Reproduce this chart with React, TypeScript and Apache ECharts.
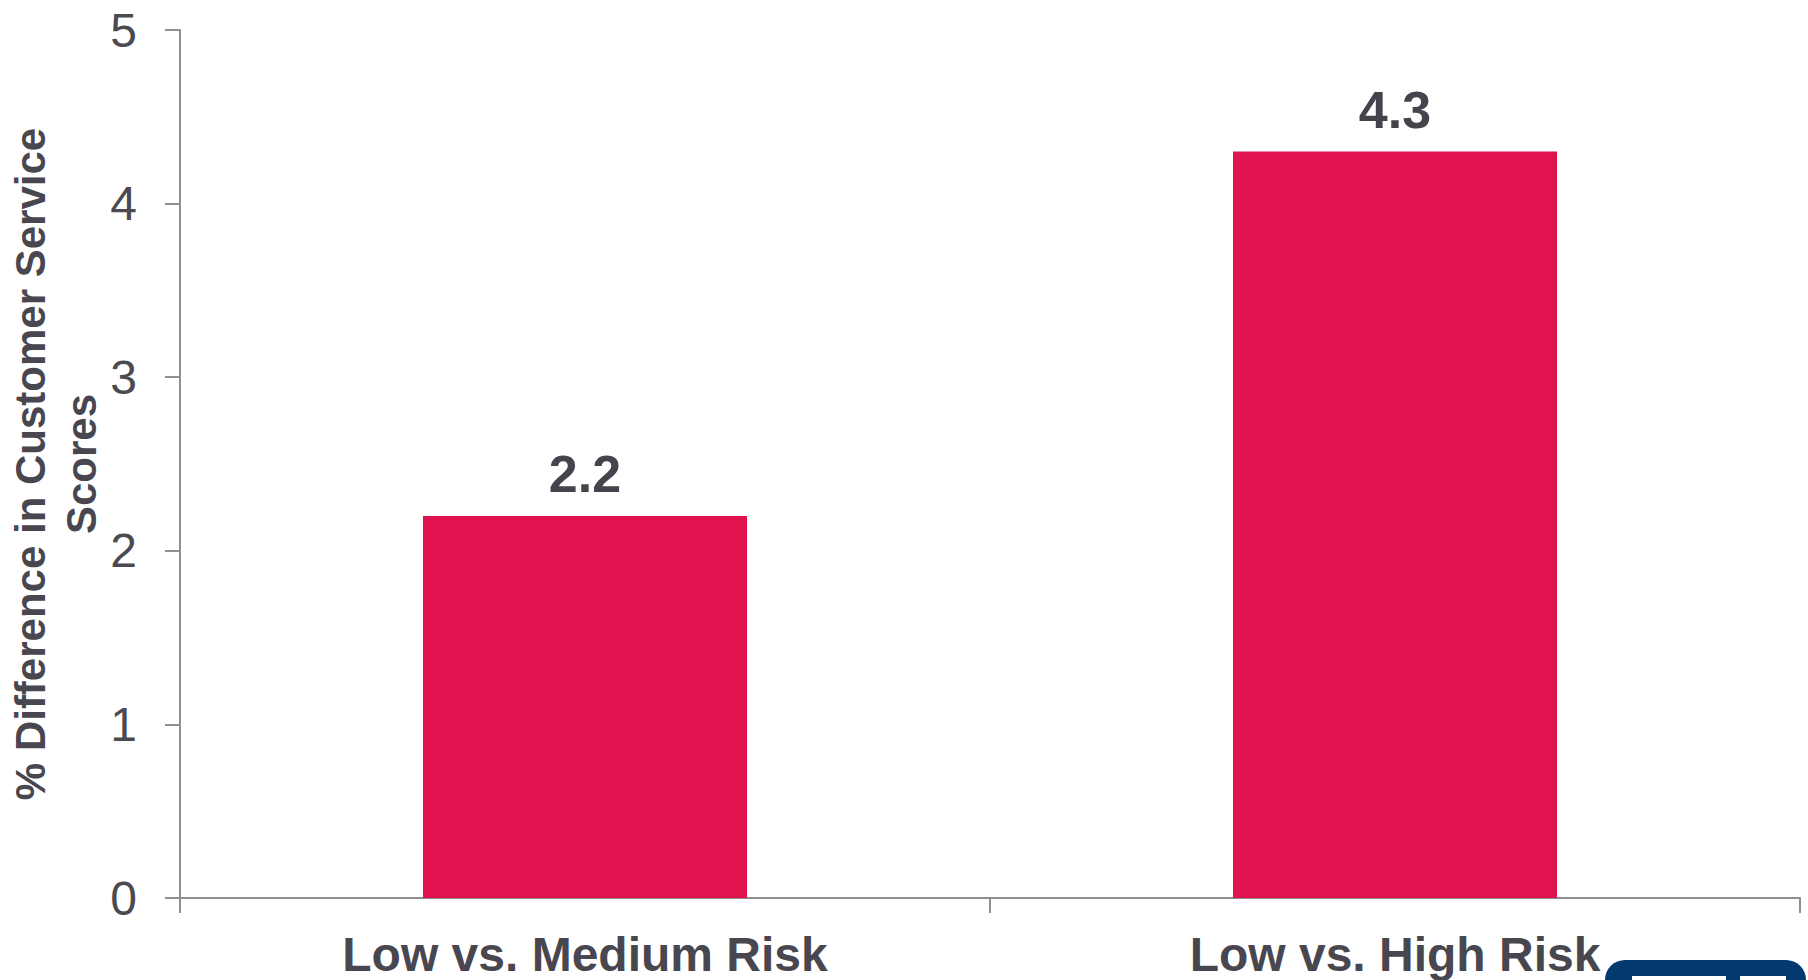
import React, { useEffect, useRef } from "react";
import * as echarts from "echarts";

const categories = ["Low vs. Medium Risk", "Low vs. High Risk"];
const values = [2.2, 4.3];
const yTicks = [0, 1, 2, 3, 4, 5];
const yAxisTitle = "% Difference in Customer Service\nScores";

const FONT = "'Liberation Sans', Arial, Helvetica, sans-serif";
const TEXT = "#48474f";

export default function App() {
  const ref = useRef<HTMLDivElement>(null);
  useEffect(() => {
    if (!ref.current) return;
    const chart = echarts.init(ref.current, null, { renderer: "svg" });
    chart.setOption({
      animation: false,
      backgroundColor: "#ffffff",
      grid: {
        left: 180,
        right: 8,
        top: 30,
        bottom: 82,
        containLabel: false,
        outerBoundsMode: "none",
      },
      xAxis: {
        type: "category",
        data: categories,
        boundaryGap: true,
        axisLine: { show: true, lineStyle: { color: "#8f8f8f", width: 2 } },
        axisTick: { show: true, inside: false, length: 15, lineStyle: { color: "#8f8f8f", width: 2 } },
        axisLabel: {
          fontFamily: FONT,
          fontSize: 48,
          fontWeight: "bold",
          color: TEXT,
          margin: 32,
        },
      },
      yAxis: {
        type: "value",
        min: yTicks[0],
        max: yTicks[yTicks.length - 1],
        interval: 1,
        name: yAxisTitle,
        nameLocation: "middle",
        nameRotate: 90,
        nameGap: 73,
        nameMoveOverlap: false,
        nameTextStyle: {
          fontFamily: FONT,
          fontSize: 42,
          fontWeight: "bold",
          color: TEXT,
          lineHeight: 51,
        },
        splitLine: { show: false },
        axisLine: { show: true, lineStyle: { color: "#8f8f8f", width: 2 } },
        axisTick: { show: true, inside: false, length: 15, lineStyle: { color: "#8f8f8f", width: 2 } },
        axisLabel: {
          fontFamily: FONT,
          fontSize: 48,
          color: "#4a4a50",
          margin: 43,
        },
      },
      series: [
        {
          type: "bar",
          data: values,
          barWidth: "40%",
          itemStyle: { color: "#e1134f" },
          label: {
            show: true,
            position: "top",
            distance: 16,
            fontFamily: FONT,
            fontSize: 52,
            fontWeight: "bold",
            color: "#45444c",
            formatter: (p: any) => p.value.toFixed(1),
          },
        },
      ],
      graphic: [
        {
          type: "group",
          silent: true,
          children: [
            {
              type: "rect",
              shape: { x: 1605, y: 960, width: 201, height: 60, r: 20 },
              style: { fill: "#023a70" },
            },
            {
              type: "rect",
              shape: { x: 1632, y: 976, width: 94, height: 10 },
              style: { fill: "#ffffff" },
            },
            {
              type: "rect",
              shape: { x: 1740, y: 976, width: 46, height: 10 },
              style: { fill: "#ffffff" },
            },
          ],
        },
      ],
    });
    return () => chart.dispose();
  }, []);
  return (
    <div
      ref={ref}
      style={{ position: "absolute", left: 0, top: 0, width: 1808, height: 980 }}
    />
  );
}
